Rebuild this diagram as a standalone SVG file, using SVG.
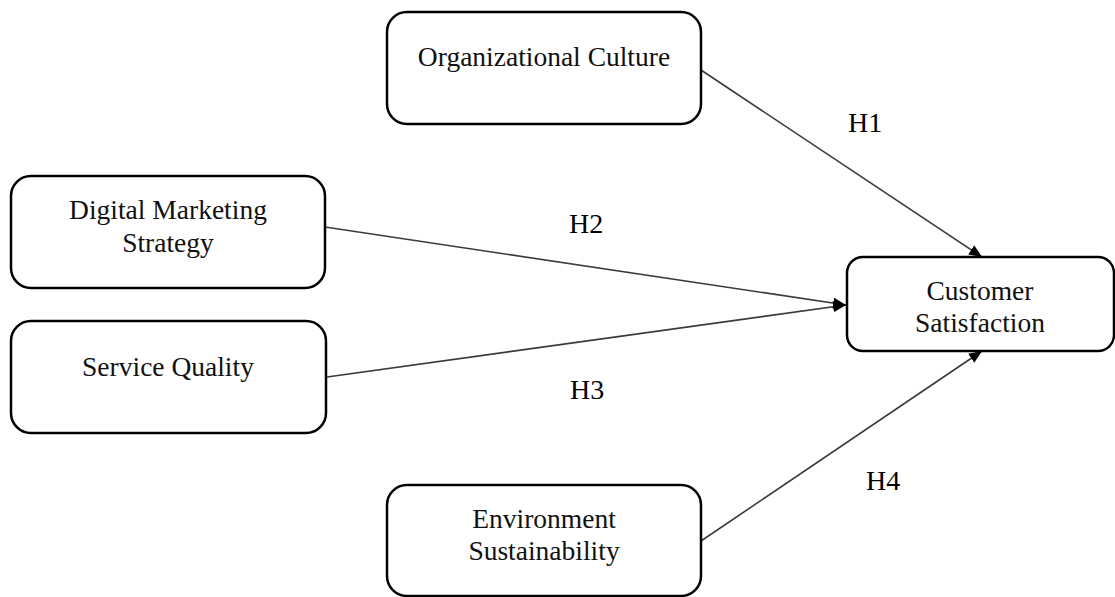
<svg xmlns="http://www.w3.org/2000/svg" width="1115" height="597" viewBox="0 0 1115 597">
  <style>
    .box { fill: #ffffff; stroke: #000000; stroke-width: 2.5; }
    .label { font-family: "Liberation Serif", "Times New Roman", serif; font-size: 27.5px; fill: #111111; text-anchor: middle; }
    .hyp { font-family: "Liberation Serif", "Times New Roman", serif; font-size: 28px; fill: #000000; }
    .edge { stroke: #3a3a3a; stroke-width: 1.6; fill: none; marker-end: url(#arrow); }
  </style>
  <defs>
    <marker id="arrow" markerUnits="userSpaceOnUse" markerWidth="13" markerHeight="11" refX="13" refY="5.5" orient="auto">
      <path d="M0,0 L13,5.5 L0,11 z" fill="#000000"/>
    </marker>
  </defs>
  <rect width="1115" height="597" fill="#ffffff"/>

  <g id="connectors">
    <line class="edge" x1="701" y1="70" x2="982" y2="257"/>
    <line class="edge" x1="325" y1="227" x2="846" y2="305"/>
    <line class="edge" x1="327" y1="377" x2="846" y2="305"/>
    <line class="edge" x1="701" y1="541" x2="982" y2="351"/>
    <text class="hyp" x="848" y="132">H1</text>
    <text class="hyp" x="569" y="233">H2</text>
    <text class="hyp" x="570" y="399">H3</text>
    <text class="hyp" x="866" y="490">H4</text>
  </g>

  <g id="organizational-culture">
    <rect class="box" x="387" y="12" width="314" height="112" rx="20"/>
    <text class="label" x="544" y="66">Organizational Culture</text>
  </g>

  <g id="digital-marketing-strategy">
    <rect class="box" x="11" y="176" width="314" height="112" rx="20"/>
    <text class="label" x="168" y="219">Digital Marketing</text>
    <text class="label" x="168" y="252">Strategy</text>
  </g>

  <g id="service-quality">
    <rect class="box" x="11" y="321" width="315" height="112" rx="20"/>
    <text class="label" x="168" y="376">Service Quality</text>
  </g>

  <g id="customer-satisfaction">
    <rect class="box" x="847" y="257" width="267" height="94" rx="16"/>
    <text class="label" x="980" y="300">Customer</text>
    <text class="label" x="980" y="332">Satisfaction</text>
  </g>

  <g id="environment-sustainability">
    <rect class="box" x="387" y="485" width="314" height="111" rx="20"/>
    <text class="label" x="544" y="528">Environment</text>
    <text class="label" x="544" y="560">Sustainability</text>
  </g>
</svg>
